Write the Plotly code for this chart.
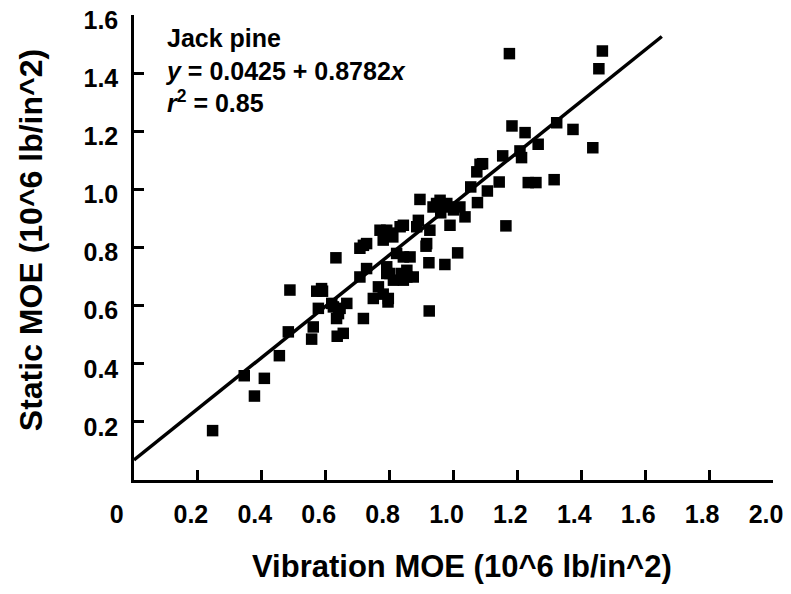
import plotly.graph_objects as go

# Scatter data (Vibration MOE, Static MOE), 10^6 lb/in^2
vib_moe = [
    0.246, 0.345, 0.377, 0.408, 0.455, 0.483, 0.488, 0.556, 0.561, 0.577,
    0.572, 0.590, 0.619, 0.634, 0.636, 0.655, 0.645, 0.666, 0.632, 0.640,
    0.718, 0.707, 0.728, 0.718, 0.749, 0.765, 0.796, 0.780, 0.780, 0.791,
    0.801, 0.833, 0.843, 0.838, 0.843, 0.810, 0.822, 0.791, 0.854, 0.812,
    0.864, 0.843, 0.801, 0.874, 0.890, 0.895, 0.914, 0.926, 0.923, 0.924,
    0.936, 0.958, 0.979, 0.973, 0.989, 1.013, 1.036, 1.054, 1.073, 1.083,
    1.075, 1.106, 1.143, 1.154, 1.164, 1.175, 1.183, 1.208, 1.213, 1.224,
    1.234, 1.258, 1.265, 1.315, 1.323, 1.374, 1.436, 1.455, 1.466, 1.000,
    0.960, 1.020, 0.707, 0.728, 0.770, 0.854, 0.885, 0.947, 0.989, 0.916,
    0.624, 0.587, 0.795, 0.791, 1.091,
]
static_moe = [
    0.170, 0.359, 0.289, 0.350, 0.428, 0.510, 0.654, 0.485, 0.527, 0.591,
    0.650, 0.650, 0.608, 0.556, 0.495, 0.505, 0.591, 0.608, 0.765, 0.573,
    0.556, 0.699, 0.728, 0.808, 0.625, 0.665, 0.625, 0.640, 0.826, 0.860,
    0.711, 0.872, 0.768, 0.711, 0.688, 0.837, 0.780, 0.734, 0.699, 0.688,
    0.768, 0.877, 0.850, 0.699, 0.894, 0.966, 0.805, 0.860, 0.748, 0.582,
    0.940, 0.963, 0.952, 0.742, 0.877, 0.782, 0.906, 1.009, 1.061, 1.087,
    0.955, 0.995, 1.026, 1.116, 0.875, 1.468, 1.219, 1.133, 1.110, 1.196,
    1.024, 1.024, 1.156, 1.034, 1.230, 1.207, 1.144, 1.416, 1.477, 0.930,
    0.920, 0.940, 0.798, 0.814, 0.860, 0.722, 0.872, 0.952, 0.940, 0.814,
    0.596, 0.659, 0.613, 0.711, 1.089,
]

# Regression line endpoints as drawn in the reference
fit_x = [0.0, 1.652]
fit_y = [0.069, 1.527]

x_tickvals = [0, 0.2, 0.4, 0.6, 0.8, 1.0, 1.2, 1.4, 1.6, 1.8, 2.0]
x_ticktext = ["0\u00a0\u00a0\u00a0", "0.2", "0.4", "0.6", "0.8", "1.0",
              "1.2", "1.4", "1.6", "1.8", "2.0"]
y_tickvals = [0.2, 0.4, 0.6, 0.8, 1.0, 1.2, 1.4, 1.6]
y_ticktext = ["0.2", "0.4", "0.6", "0.8", "1.0", "1.2", "1.4", "1.6"]

FONT = "Liberation Sans, Arial, Helvetica, sans-serif"

fig = go.Figure()
fig.add_trace(go.Scatter(
    x=fit_x, y=fit_y, mode="lines",
    line=dict(color="black", width=3.5),
    showlegend=False, hoverinfo="skip",
))
fig.add_trace(go.Scatter(
    x=vib_moe, y=static_moe, mode="markers",
    marker=dict(symbol="square", size=11.5, color="black"),
    showlegend=False,
))

axis_common = dict(
    showgrid=False, zeroline=False, showline=True, automargin=False,
    linecolor="black", linewidth=2.5,
    ticks="inside", ticklen=10, tickwidth=2.5, tickcolor="black",
    tickfont=dict(family=FONT, size=25, color="black", weight="bold"),
    tickmode="array", ticklabeloverflow="allow",
)

fig.update_xaxes(range=[0, 2.0], tickvals=x_tickvals, ticktext=x_ticktext,
                 ticklabelstandoff=10, ticklabelshift=-7, **axis_common)
fig.update_yaxes(range=[0, 1.601], tickvals=y_tickvals, ticktext=y_ticktext,
                 ticklabelstandoff=8, ticklabelshift=5, **axis_common)

fig.add_annotation(
    xref="paper", yref="paper", x=0.513, y=-0.187, xanchor="center", yanchor="middle",
    text="Vibration MOE (10^6 lb/in^2)", showarrow=False,
    font=dict(family=FONT, size=31, color="black", weight="bold"),
)
fig.add_annotation(
    xref="paper", yref="paper", x=-0.161, y=0.516, xanchor="center", yanchor="middle",
    text="Static MOE (10^6 lb/in^2)", showarrow=False, textangle=-90,
    font=dict(family=FONT, size=32, color="black", weight="bold"),
)
fig.add_annotation(
    xref="paper", yref="paper", x=0.045, y=0.985, xanchor="left", yanchor="top",
    align="left", showarrow=False,
    text="Jack pine<br><i>y</i> = 0.0425 + 0.8782<i>x</i><br><i>r</i><sup>2</sup> = 0.85",
    font=dict(family=FONT, size=25, color="black", weight="bold"),
)

# The page body has an 8px margin, so the figure is sized/offset to land
# the plot area where it sits in the reference screenshot.
fig.update_layout(
    width=783, height=586, autosize=False,
    margin=dict(l=126, r=18, t=7, b=114),
    paper_bgcolor="white", plot_bgcolor="white",
)

fig.write_html("out.html")
